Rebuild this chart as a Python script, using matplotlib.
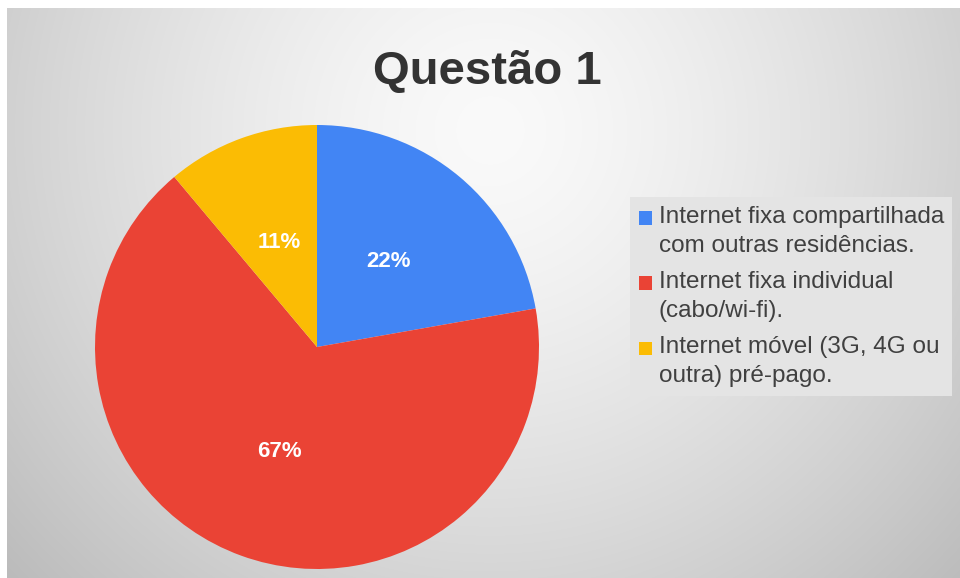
import matplotlib
matplotlib.use("Agg")
import matplotlib.pyplot as plt
import numpy as np

# answers to question 1 (number of responses)
labels = ["Internet fixa compartilhada\ncom outras residências.",
          "Internet fixa individual\n(cabo/wi-fi).",
          "Internet móvel (3G, 4G ou\noutra) pré-pago."]
counts = [2, 6, 1]
colors = ["#4285F4", "#EA4335", "#FBBC04"]

plt.rcParams['font.family'] = ['Liberation Sans', 'DejaVu Sans']

W, H = 960, 578
fig = plt.figure(figsize=(W / 100, H / 100), dpi=100)

# radial grey background with a thin white margin on top/left
bg = fig.add_axes([0, 0, 1, 1])
yy, xx = np.mgrid[0:H, 0:W]
d = np.hypot(xx - 490, yy - 130) / 650.0
v = 250 - 62 * np.clip(d, 0, 1.2) ** 1.4
img = np.dstack([v, v, v]) / 255.0
img[:8, :, :] = 1.0
img[:, :7, :] = 1.0
bg.imshow(img, extent=[0, W, H, 0], aspect='auto')
bg.set_xlim(0, W)
bg.set_ylim(H, 0)
bg.axis('off')

# pie
cx, cy, r = 317, 347, 222
ax = fig.add_axes([(cx - r) / W, (H - cy - r) / H, 2 * r / W, 2 * r / H])
wedges, _, autotexts = ax.pie(
    counts, colors=colors, startangle=90, counterclock=False,
    autopct=lambda p: f"{p:.0f}%", pctdistance=0.50,
    wedgeprops=dict(linewidth=0),
    textprops=dict(color="white", fontsize=16, fontweight="bold"))
ax.set_xlim(-1, 1)
ax.set_ylim(-1, 1)
ax.axis('off')

fig.text(487 / W, 1 - 72 / H, "Questão 1", ha="center", va="center",
         fontsize=34, fontweight="bold", color="#333333")

leg = fig.legend(wedges, labels, loc="upper left",
                 bbox_to_anchor=(630 / W, 1 - 197 / H),
                 fontsize=17.5, frameon=True, fancybox=False,
                 facecolor="#e4e4e4", edgecolor="none", framealpha=1,
                 handlelength=0.55, handleheight=0.55, handletextpad=0.28,
                 labelspacing=0.55, borderpad=0.35, borderaxespad=0,
                 labelcolor="#404040")
for t in leg.get_texts():
    t.set_linespacing(1.45)
# squares sit beside the first line of each entry
for h in leg.legend_handles:
    h.set_height(9.5)
    h.set_width(9.5)
    h.set_y(h.get_y() + 10)

fig.savefig("out.png", dpi=100)
